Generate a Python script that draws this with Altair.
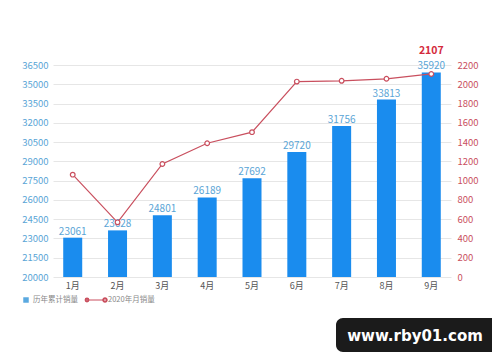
import altair as alt
import pandas as pd

months = ["1月", "2月", "3月", "4月", "5月", "6月", "7月", "8月", "9月"]
cumulative = [23061, 23628, 24801, 26189, 27692, 29720, 31756, 33813, 35920]
monthly = [1062, 567, 1173, 1388, 1503, 2028, 2036, 2057, 2107]
left_ticks = list(range(20000, 36501, 1500))
right_ticks = list(range(0, 2201, 200))

FONT = "Noto Sans CJK SC"
BAR = "#1a8cee"
LINE = "#c94f5e"
LBLUE = "#5aa5d6"

df = pd.DataFrame({"month": months, "cum": cumulative, "monthly": monthly, "base": [20000] * len(months)})

xaxis = alt.Axis(title=None, labelAngle=0, domain=False, ticks=False,
                 labelPadding=4, labelColor="#555555", labelFontSize=9, labelFont=FONT)
xscale = alt.Scale(paddingInner=0.576, paddingOuter=0.228)

def X():
    return alt.X("month:N", sort=months, scale=xscale, axis=xaxis)

lscale = alt.Scale(domain=[20000, 36500], zero=False, nice=False)
laxis = alt.Axis(values=left_ticks, format="d", title=None, domain=False, ticks=False,
                 labelColor=LBLUE, labelFontSize=9.5, labelFont=FONT, labelPadding=5,
                 gridColor="#e6e6e6", gridWidth=1, grid=True)
rscale = alt.Scale(domain=[0, 2200], nice=False)
raxis = alt.Axis(values=right_ticks, format="d", orient="right", title=None, domain=False, ticks=False,
                 grid=False, labelColor=LINE, labelFontSize=9.5, labelFont=FONT, labelPadding=6)

bars = alt.Chart(df).mark_bar(color=BAR).encode(
    x=X(), y=alt.Y("cum:Q", scale=lscale, axis=laxis), y2="base:Q")
bar_text = alt.Chart(df).mark_text(color=LBLUE, fontSize=10, font=FONT, baseline="bottom", dy=-1).encode(
    x=X(), y=alt.Y("cum:Q", scale=lscale, axis=laxis), text=alt.Text("cum:Q", format="d"))
left = alt.layer(bars, bar_text)

line = alt.Chart(df).mark_line(color=LINE, strokeWidth=1.2).encode(
    x=X(), y=alt.Y("monthly:Q", scale=rscale, axis=raxis))
pts = alt.Chart(df).mark_point(shape="circle", filled=True, fill="white", stroke=LINE, strokeWidth=1.2,
                               size=22, opacity=1).encode(
    x=X(), y=alt.Y("monthly:Q", scale=rscale, axis=raxis))
last = alt.Chart(df.tail(1)).mark_text(color="#d42a3c", fontSize=10.5, fontWeight="bold", font=FONT,
                                       baseline="bottom", dy=-18).encode(
    x=X(), y=alt.Y("monthly:Q", scale=rscale, axis=raxis), text=alt.Text("monthly:Q", format="d"))
right = alt.layer(line, pts, last)

one = pd.DataFrame({"k": [0]})
leg_sq = alt.Chart(one).mark_square(color="#5aa9e0", size=30, opacity=1).encode(x=alt.value(-27), y=alt.value(235))
leg_t1 = alt.Chart(one).mark_text(text="历年累计销量", align="left", baseline="middle", fontSize=7.5, font=FONT,
                                  color="#888888").encode(x=alt.value(-20), y=alt.value(235))
leg_ln = alt.Chart(one).mark_rule(color=LINE, strokeWidth=1).encode(x=alt.value(34), x2=alt.value(52), y=alt.value(235))
leg_p1 = alt.Chart(one).mark_point(shape="circle", filled=True, fill="white", stroke=LINE, size=8, opacity=1).encode(
    x=alt.value(34), y=alt.value(235))
leg_p2 = alt.Chart(one).mark_point(shape="circle", filled=True, fill="white", stroke=LINE, size=12, opacity=1).encode(
    x=alt.value(52), y=alt.value(235))
leg_t2 = alt.Chart(one).mark_text(text="2020年月销量", align="left", baseline="middle", fontSize=7.5, font=FONT,
                                  color="#888888").encode(x=alt.value(55), y=alt.value(235))
badge = alt.Chart(one).mark_rect(color="#1b1b1b", cornerRadius=7).encode(
    x=alt.value(283), x2=alt.value(460), y=alt.value(253), y2=alt.value(287))
badge_t = alt.Chart(one).mark_text(text="www.rby01.com", color="white", fontSize=15, fontWeight="bold",
                                   font="DejaVu Sans", align="center", baseline="middle").encode(
    x=alt.value(362), y=alt.value(271))
deco = alt.layer(leg_sq, leg_t1, leg_ln, leg_p1, leg_p2, leg_t2, badge, badge_t)

chart = alt.layer(left, right, deco).resolve_scale(y="independent").properties(
    width=398, height=212,
    autosize=alt.AutoSizeParams(type="none"),
    padding={"left": 45, "top": 57, "right": 41, "bottom": 77},
    background="white",
).configure_view(stroke=None)

chart.save("out.html", embed_options={"renderer": "svg", "actions": False})
